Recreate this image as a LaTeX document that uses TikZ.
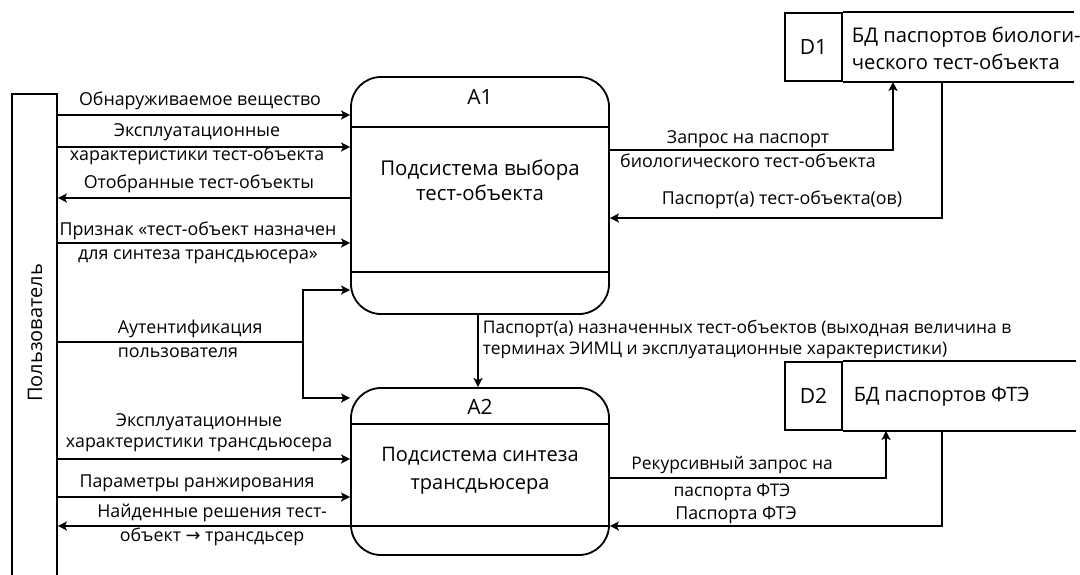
\documentclass[tikz,border=0pt]{standalone}
\usepackage{fontspec}
\setmainfont{Open Sans}
\newfontfamily\arrowfont{DejaVu Sans}
\usetikzlibrary{positioning, arrows.meta}

\begin{document}
\begin{tikzpicture}[
    x=0.5pt, y=-0.5pt,
    line width=0.9pt,
    lbl/.style={font=\fontsize{8.9}{12}\selectfont, align=center, inner sep=0pt},
    title/.style={font=\fontsize{10.5}{12}\selectfont, inner sep=0pt},
    proc/.style={draw, rectangle, rounded corners=15pt, minimum width=129pt, inner sep=0pt},
    store/.style={draw, rectangle, minimum width=28.5pt, minimum height=34pt, inner sep=0pt, font=\fontsize{10.5}{12}\selectfont},
    flow/.style={->, >={Stealth[length=4.5pt, width=4.5pt, inset=1pt]}}
]
\useasboundingbox (0,0) rectangle (1080,574);
\clip (0,0) rectangle (1080,574);

% External entity
\node[draw, minimum width=22.5pt, minimum height=263pt] (user) at (34.5,357) {};
\node[lbl, rotate=90, font=\fontsize{10}{12}\selectfont] (userlbl) at (35,333) {Пользователь};

% Process A1
\node[proc, minimum height=118.5pt] (a1) at (480,195.5) {};
\draw (a1.west |- 0,127) -- (a1.east |- 0,127);
\draw (a1.west |- 0,272) -- (a1.east |- 0,272);
\node[title] (a1id) at (480,97) {А1};
\node[lbl, font=\fontsize{10.2}{12.5}\selectfont] (a1txt) at (480,180.5) {Подсистема выбора\\тест-объекта};

% Process A2
\node[proc, minimum height=83.5pt] (a2) at (480,471.5) {};
\draw (a2.west |- 0,424) -- (a2.east |- 0,424);
\draw (a2.west |- 0,526) -- (a2.east |- 0,526);
\node[title] (a2id) at (480,407) {А2};
\node[lbl, font=\fontsize{10}{14}\selectfont] (a2txt) at (480,471) {Подсистема синтеза\\трансдьюсера};

% Data stores
\node[store] (d1) at (813.5,47) {D1};
\node[lbl, anchor=west, align=left, font=\fontsize{10.1}{13.5}\selectfont] (d1txt) at (851,48.5) {БД паспортов биологи-\\ческого тест-объекта};
\draw (d1.north east) -- ++(231,0);
\draw (d1.south east) -- ++(231,0);

\node[store] (d2) at (813.5,396) {D2};
\node[lbl, anchor=west, font=\fontsize{9.9}{12}\selectfont] (d2txt) at (853,397) {БД паспортов ФТЭ};
\draw (d2.north east) -- ++(233,0);
\draw (d2.south east) -- ++(233,0);

% Flows user <-> A1
\draw[flow] (user.east |- 0,115) -- (a1.west |- 0,115);
\draw[flow] (user.east |- 0,147) -- (a1.west |- 0,147);
\draw[flow] (a1.west |- 0,198) -- (user.east |- 0,198);
\draw[flow] (user.east |- 0,243) -- (a1.west |- 0,243);
\node[lbl] (f1) at (200,101) {Обнаруживаемое вещество};
\node[lbl] (f2) at (197,144) {Эксплуатационные\\характеристики тест-объекта};
\node[lbl] (f3) at (199,184) {Отобранные тест-объекты};
\node[lbl] (f4) at (198,242.5) {Признак «тест-объект назначен\\для синтеза трансдьюсера»};

% Authentication
\coordinate (auth) at (303,342);
\draw (user.east |- auth) -- (auth);
\draw[flow] (auth) |- (a1.west |- 0,290);
\draw[flow] (auth) |- (a2.west |- 0,398);
\node[lbl, anchor=west, align=left] (f5) at (117,338.5) {Аутентификация\\пользователя};

% Flows user <-> A2
\draw[flow] (user.east |- 0,459) -- (a2.west |- 0,459);
\draw[flow] (user.east |- 0,497) -- (a2.west |- 0,497);
\draw[flow] (a2.west |- 0,526) -- (user.east |- 0,526);
\node[lbl, font=\fontsize{8.9}{10.5}\selectfont] (f6) at (199,433) {Эксплуатационные\\характеристики трансдьюсера};
\node[lbl] (f7) at (197,483) {Параметры ранжирования};
\node[lbl] (f8) at (212,525) {Найденные решения тест-\\объект {\arrowfont →} трансдьсер};

% A1 -> A2
\draw[flow] (a1.south -| 478,0) -- (a2.north -| 478,0);
\node[lbl, anchor=west, align=left, font=\fontsize{8.7}{10.5}\selectfont] (f9) at (482,339.5) {Паспорт(а) назначенных тест-объектов (выходная величина в\\терминах ЭИМЦ и эксплуатационные характеристики)};

% A1 <-> D1
\draw[flow] (a1.east |- 0,150) -| (d1.south -| 893,0);
\draw[flow] (d1.south -| 942,0) |- (a1.east |- 0,218);
\node[lbl] (f10) at (748,149.5) {Запрос на паспорт\\биологического тест-объекта};
\node[lbl] (f11) at (782,200) {Паспорт(а) тест-объекта(ов)};

% A2 <-> D2
\draw[flow] (a2.east |- 0,478) -| (d2.south -| 886,0);
\draw[flow] (d2.south -| 942,0) |- (a2.east |- 0,526);
\node[lbl, font=\fontsize{8.7}{13.5}\selectfont] (f12) at (732,478.5) {Рекурсивный запрос на\\паспорта ФТЭ};
\node[lbl] (f13) at (736,515) {Паспорта ФТЭ};

\end{tikzpicture}
\end{document}
